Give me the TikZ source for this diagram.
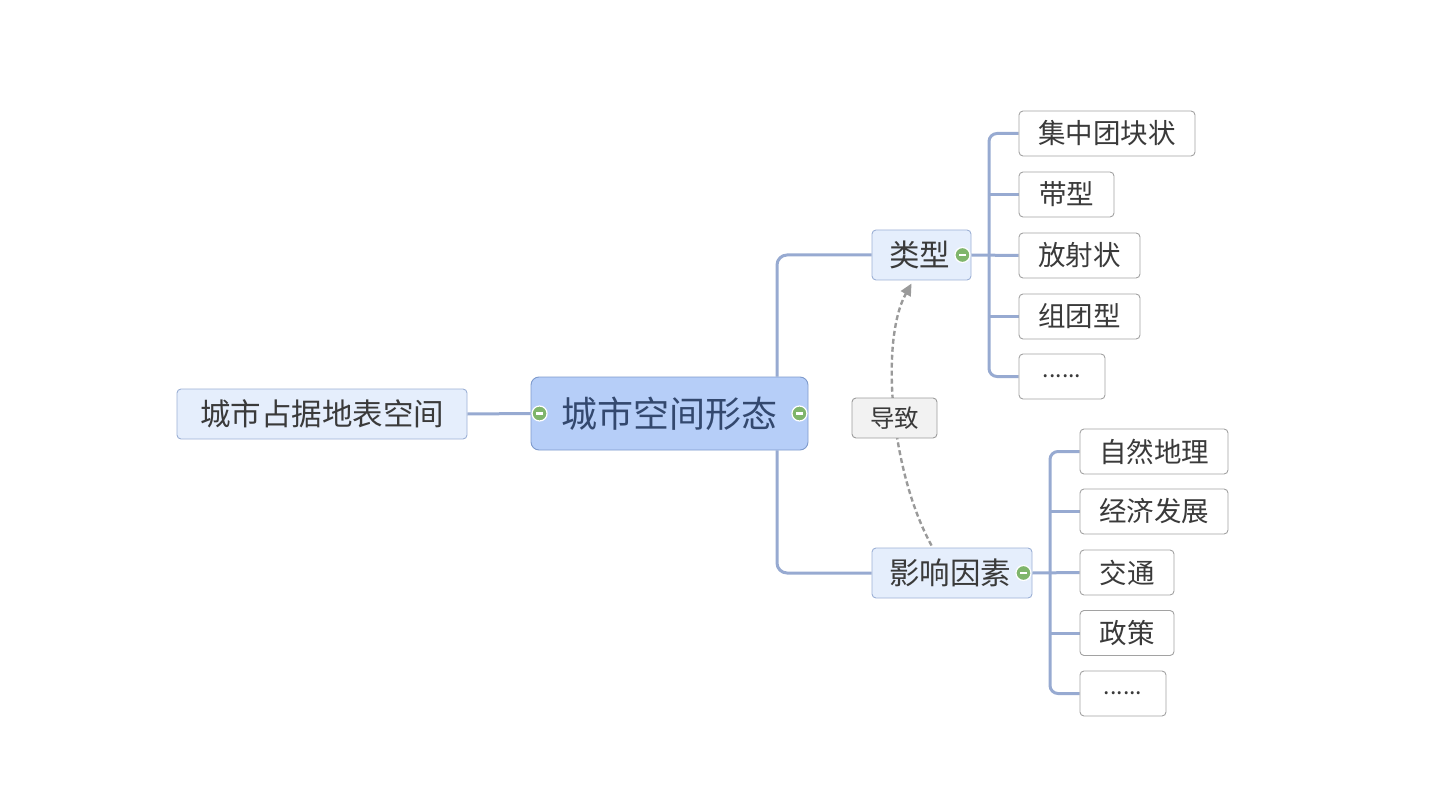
\documentclass[tikz,border=0pt]{standalone}
\usepackage{fontspec}
\setmainfont{Noto Sans CJK SC}
\usetikzlibrary{arrows.meta,calc}
\pgfdeclarelayer{background}
\pgfsetlayers{background,main}
\definecolor{conn}{HTML}{97AAD1}
\definecolor{mainfill}{HTML}{B6CEF8}
\definecolor{mainline}{HTML}{7E9ACC}
\definecolor{subfill}{HTML}{E5EEFC}
\definecolor{subline}{HTML}{9CB0D5}
\definecolor{leafline}{HTML}{A2A2A2}
\definecolor{txt}{HTML}{3A3A3A}
\definecolor{maintxt}{HTML}{33486E}
\definecolor{knob}{HTML}{7FB56B}
\definecolor{relfill}{HTML}{F2F2F2}
\definecolor{relline}{HTML}{9C9C9C}
\definecolor{relarrow}{HTML}{9A9A9A}
\tikzset{
  box/.style={draw, rounded corners=4pt, inner sep=0pt, line width=0.9pt, text=txt},
  mainbox/.style={box, fill=mainfill, draw=mainline, rounded corners=8pt, text=maintxt, font=\fontsize{36}{42}\selectfont},
  subbox/.style={box, fill=subfill, draw=subline, font=\fontsize{30.5}{36}\selectfont},
  leaf/.style={box, fill=white, draw=leafline, font=\fontsize{27.5}{33}\selectfont},
  dotsfont/.style={font=\fontsize{23}{28}\selectfont},
  relbox/.style={box, fill=relfill, draw=relline, font=\fontsize{24.5}{30}\selectfont},
  conn/.style={draw=conn, line width=3pt},
  knobnode/.style={circle, fill=knob, draw=white, line width=1.2pt, minimum size=15pt, inner sep=0pt,
    path picture={\draw[white, line width=2.6pt] ([xshift=-3.3pt]path picture bounding box.center) -- ([xshift=3.3pt]path picture bounding box.center);}},
}
\begin{document}
\begin{tikzpicture}[x=1pt,y=-1pt]
\useasboundingbox (0,0) rectangle (1440,810);
% nodes
\node[subbox, minimum width=290pt, minimum height=50pt] (root) at (322,414) {城市占据地表空间};
\node[mainbox, minimum width=277pt, minimum height=73pt] (main) at (669.5,413.5) {城市空间形态};
\node[subbox, minimum width=99pt, minimum height=50pt, text width=99pt, align=left] (ty) at (921.5,255) {\hspace*{17pt}类型};
\node[subbox, minimum width=160pt, minimum height=50pt, text width=160pt, align=left] (fac) at (952,573) {\hspace*{17pt}影响因素};
\node[relbox, minimum width=85pt, minimum height=40pt] (rel) at (894.5,418) {导致};

\node[leaf, minimum width=176pt, minimum height=45pt] (t1) at (1107,133.5) {集中团块状};
\node[leaf, minimum width=95pt, minimum height=45pt] (t2) at (1066.5,194.5) {带型};
\node[leaf, minimum width=121pt, minimum height=45pt] (t3) at (1079.5,255.5) {放射状};
\node[leaf, minimum width=121pt, minimum height=45pt] (t4) at (1079.5,316.5) {组团型};
\node[leaf, dotsfont, minimum width=86pt, minimum height=45pt] (t5) at (1062,376.5) {......};

\node[leaf, minimum width=148pt, minimum height=45pt] (f1) at (1154,451.5) {自然地理};
\node[leaf, minimum width=148pt, minimum height=45pt] (f2) at (1154,511.5) {经济发展};
\node[leaf, minimum width=94pt, minimum height=45pt] (f3) at (1127,572.5) {交通};
\node[leaf, minimum width=94pt, minimum height=45pt] (f4) at (1127,633) {政策};
\node[leaf, dotsfont, minimum width=86pt, minimum height=45pt] (f5) at (1123,693.5) {......};

% spine coordinates
\coordinate (s1) at (989,255);
\coordinate (s2) at (1050,573);
\coordinate (m1) at (777,0);

% connectors
\begin{pgfonlayer}{background}
\draw[conn] (root.east) -- (main.west);
\draw[conn, rounded corners=10pt] (main.north -| m1) |- (ty.west);
\draw[conn, rounded corners=10pt] (main.south -| m1) |- (fac.west);

\draw[conn] (ty.east) -- (t3.west);
\draw[conn, rounded corners=8pt] (t1.west) -| (s1) |- (t5.west);
\draw[conn] (t2.west) -- (t2.west -| s1);
\draw[conn] (t4.west) -- (t4.west -| s1);

\draw[conn] (fac.east) -- (f3.west);
\draw[conn, rounded corners=8pt] (f1.west) -| (s2) |- (f5.west);
\draw[conn] (f2.west) -- (f2.west -| s2);
\draw[conn] (f4.west) -- (f4.west -| s2);

% relation arrow
\coordinate (ra) at ($(fac.north west)+(60,-2)$);
\coordinate (rb) at ($(ty.south west)+(40,3)$);
\draw[relarrow, line width=2.4pt, dash pattern=on 5pt off 3pt, -{Triangle[length=12pt,width=11pt]}]
  (ra) .. controls (890,470) and (880,340) .. (rb);
\end{pgfonlayer}

% knobs
\node[knobnode] (k1) at ($(main.west)+(9,0)$) {};
\node[knobnode] (k2) at ($(main.east)+(-9,0)$) {};
\node[knobnode] (k3) at ($(ty.east)+(-9,0)$) {};
\node[knobnode] (k4) at ($(fac.east)+(-9,0)$) {};
\end{tikzpicture}
\end{document}
